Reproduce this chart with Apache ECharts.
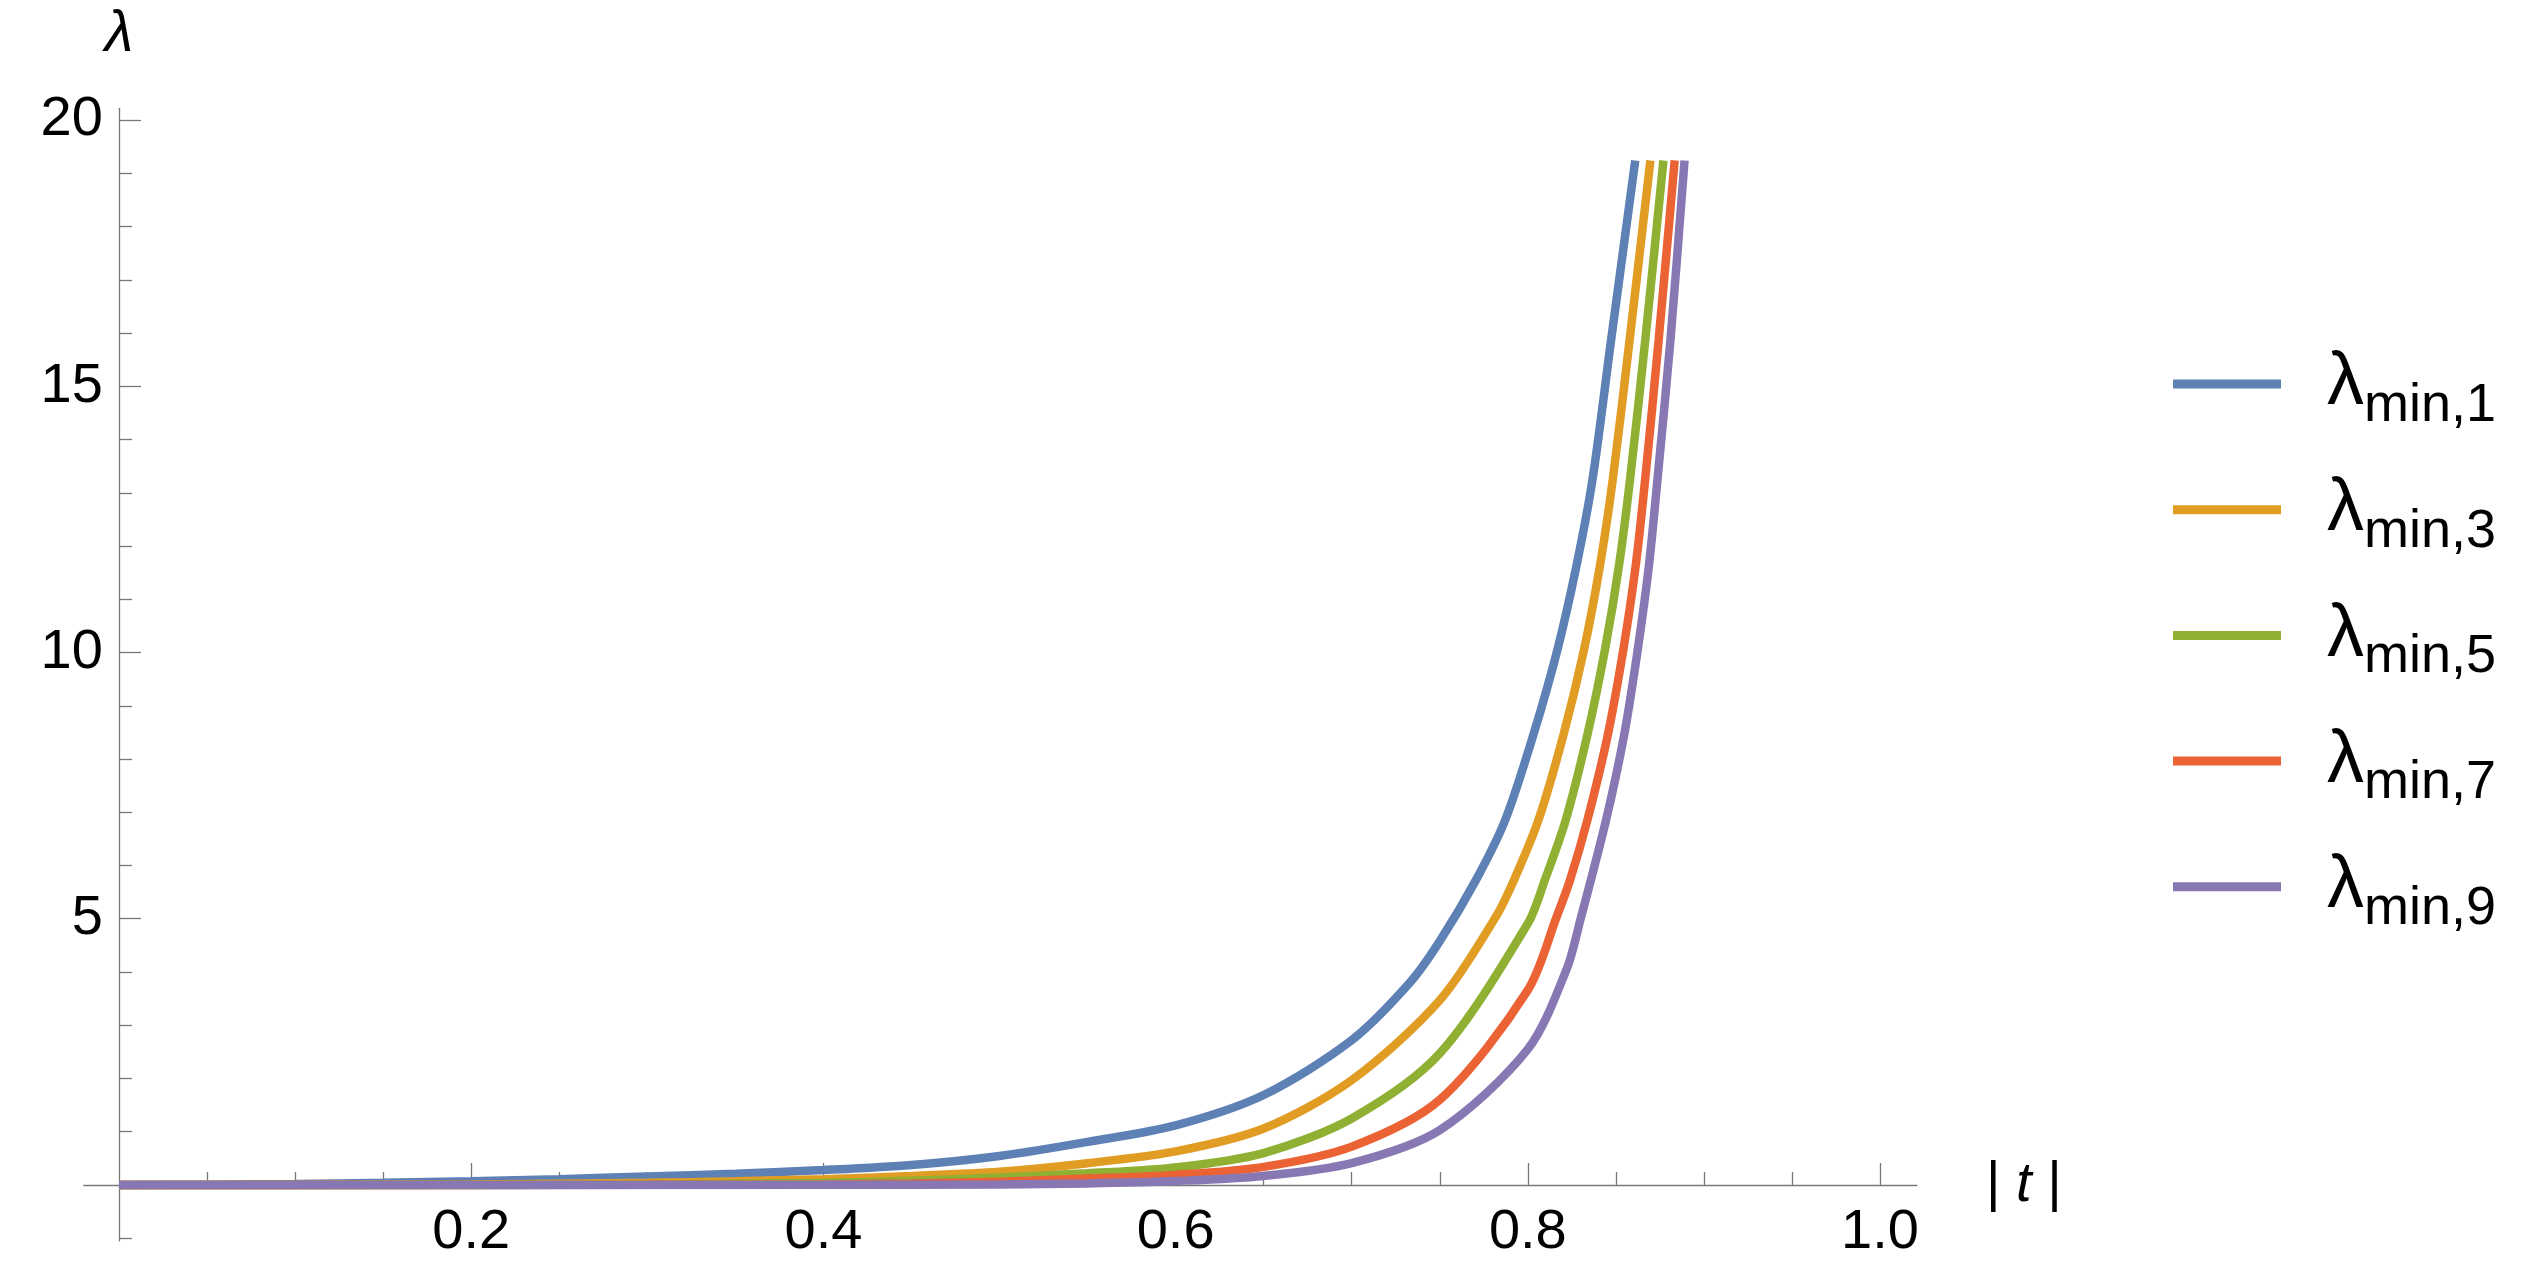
<!DOCTYPE html>
<html>
<head>
<meta charset="utf-8">
<title>lambda min</title>
<script src="https://cdn.jsdelivr.net/npm/echarts@6.0.0/dist/echarts.min.js"></script>
<style>
  html, body { margin: 0; padding: 0; background: #fff; }
  #chart { width: 2523px; height: 1284px; }
</style>
</head>
<body>
<div id="chart"></div>
<script>
// |t| and lambda, one pair of arrays per curve
const t1 = [0, 0.05, 0.1, 0.15, 0.2, 0.25, 0.3, 0.35, 0.4, 0.45, 0.5, 0.55, 0.6, 0.65, 0.7, 0.733, 0.75, 0.7706, 0.7871, 0.8031, 0.8168, 0.8277, 0.8367, 0.8473, 0.861];
const lam1 = [0, 0.005, 0.02, 0.04, 0.07, 0.11, 0.16, 0.21, 0.28, 0.375, 0.545, 0.81, 1.12, 1.69, 2.72, 3.8, 4.58, 5.73, 6.85, 8.45, 10.05, 11.64, 13.24, 15.87, 19.24];

const t3 = [0, 0.1, 0.2, 0.3, 0.35, 0.4, 0.45, 0.5, 0.55, 0.6, 0.65, 0.7, 0.75, 0.7819, 0.7922, 0.806, 0.8202, 0.8319, 0.841, 0.8482, 0.8578, 0.8696];
const lam3 = [0, 0.001, 0.01, 0.04, 0.07, 0.11, 0.17, 0.25, 0.41, 0.63, 1.06, 1.97, 3.47, 5.04, 5.73, 6.85, 8.45, 10.05, 11.64, 13.24, 15.87, 19.24];

const t5 = [0, 0.2, 0.3, 0.4, 0.45, 0.5, 0.55, 0.6, 0.65, 0.7, 0.75, 0.8, 0.8097, 0.8215, 0.8338, 0.8438, 0.8518, 0.858, 0.8667, 0.877];
const lam5 = [0, 0.002, 0.01, 0.04, 0.08, 0.14, 0.22, 0.33, 0.6, 1.25, 2.47, 4.91, 5.73, 6.85, 8.45, 10.05, 11.64, 13.24, 15.87, 19.24];

const t7 = [0, 0.3, 0.4, 0.45, 0.5, 0.55, 0.6, 0.65, 0.7, 0.75, 0.8, 0.8164, 0.824, 0.8338, 0.8454, 0.8542, 0.8613, 0.8666, 0.8743, 0.8834];
const lam7 = [0, 0.003, 0.01, 0.03, 0.06, 0.12, 0.19, 0.34, 0.72, 1.6, 3.66, 5.04, 5.73, 6.85, 8.45, 10.05, 11.64, 13.24, 15.87, 19.24];

const t9 = [0, 0.4, 0.5, 0.55, 0.6, 0.65, 0.7, 0.75, 0.8, 0.822, 0.83, 0.8444, 0.8547, 0.8624, 0.8688, 0.8736, 0.881, 0.889];
const lam9 = [0, 0.003, 0.01, 0.03, 0.075, 0.17, 0.41, 1.03, 2.55, 4.05, 5.0, 6.85, 8.45, 10.05, 11.64, 13.24, 15.87, 19.24];

const seriesNames = ['λmin,1', 'λmin,3', 'λmin,5', 'λmin,7', 'λmin,9'];
const subscripts = ['min,1', 'min,3', 'min,5', 'min,7', 'min,9'];
const colors = ['#5e81b5', '#e19c24', '#8fb032', '#eb6235', '#8778b3'];

const xMajorTicks = [0.2, 0.4, 0.6, 0.8, 1.0];
const xMinorTicks = [0.05, 0.1, 0.15, 0.25, 0.3, 0.35, 0.45, 0.5, 0.55, 0.65, 0.7, 0.75, 0.85, 0.9, 0.95];
const yMajorTicks = [5, 10, 15, 20];
const yMinorTicks = [-1, 1, 2, 3, 4, 6, 7, 8, 9, 11, 12, 13, 14, 16, 17, 18, 19];

const FONT = "'Liberation Sans', Arial, sans-serif";
const AXIS_GRAY = '#777777';

function zip(xs, ys) {
  return xs.map((x, i) => [x, ys[i]]);
}

function axisBase(min, max) {
  return {
    type: 'value',
    min: min,
    max: max,
    splitLine: {show: false},
    axisLine: {
      onZero: true,
      onZeroAxisIndex: 0,
      lineStyle: {color: AXIS_GRAY, width: 1.3}
    }
  };
}

function setChartData(chart) {
  const curves = [zip(t1, lam1), zip(t3, lam3), zip(t5, lam5), zip(t7, lam7), zip(t9, lam9)];

  // labels stay on the grid edge, not on the zero line, hence the negative margins
  const xMain = Object.assign(axisBase(-0.02, 1.021), {
    position: 'bottom',
    axisTick: {
      inside: true,
      length: 22,
      customValues: xMajorTicks,
      lineStyle: {color: AXIS_GRAY, width: 1.3}
    },
    axisLabel: {
      customValues: xMajorTicks,
      formatter: v => v.toFixed(1),
      fontSize: 56,
      fontFamily: FONT,
      color: '#000',
      margin: -36
    },
    name: '| {t|t} |',
    nameLocation: 'end',
    nameGap: 69,
    nameTextStyle: {
      fontSize: 56,
      fontFamily: FONT,
      color: '#000',
      verticalAlign: 'middle',
      rich: {
        t: {fontSize: 56, fontFamily: FONT, fontStyle: 'italic', color: '#000'}
      }
    }
  });

  const xMinor = Object.assign(axisBase(-0.02, 1.021), {
    position: 'bottom',
    axisTick: {
      inside: true,
      length: 13,
      customValues: xMinorTicks,
      lineStyle: {color: AXIS_GRAY, width: 1.3}
    },
    axisLabel: {show: false}
  });
  xMinor.axisLine.show = false;

  const yMain = Object.assign(axisBase(-1.05, 20.22), {
    position: 'left',
    axisTick: {
      inside: true,
      length: 22,
      customValues: yMajorTicks,
      lineStyle: {color: AXIS_GRAY, width: 1.3}
    },
    axisLabel: {
      customValues: yMajorTicks,
      fontSize: 56,
      fontFamily: FONT,
      color: '#000',
      margin: -19
    },
    name: 'λ',
    nameLocation: 'end',
    nameGap: 44,
    nameTextStyle: {
      fontSize: 58,
      fontFamily: FONT,
      fontStyle: 'italic',
      color: '#000',
      align: 'center'
    }
  });

  const yMinor = Object.assign(axisBase(-1.05, 20.22), {
    position: 'left',
    axisTick: {
      inside: true,
      length: 13,
      customValues: yMinorTicks,
      lineStyle: {color: AXIS_GRAY, width: 1.3}
    },
    axisLabel: {show: false}
  });
  yMinor.axisLine.show = false;

  let option = {
    animation: false,
    backgroundColor: '#fff',
    color: colors,
    grid: {
      left: 83.8,
      right: 606,
      top: 108.3,
      bottom: 43.1,
      containLabel: false,
      outerBoundsMode: 'none'
    },
    xAxis: [xMain, xMinor],
    yAxis: [yMain, yMinor],
    legend: {
      orient: 'vertical',
      left: 2168,
      top: 330,
      icon: 'rect',
      itemWidth: 108,
      itemHeight: 9,
      itemGap: 27.7,
      selectedMode: false,
      data: seriesNames,
      formatter: name => '{l|λ}{s|' + subscripts[seriesNames.indexOf(name)] + '}',
      textStyle: {
        color: '#000',
        fontFamily: FONT,
        rich: {
          l: {fontSize: 74, lineHeight: 80, fontFamily: FONT, color: '#000', padding: [0, 0, 0, 41]},
          s: {fontSize: 54, lineHeight: 36, fontFamily: FONT, color: '#000', padding: [44, 0, 0, 0]}
        }
      }
    },
    series: curves.map((data, i) => {
      return {
        name: seriesNames[i],
        type: 'line',
        xAxisIndex: 0,
        yAxisIndex: 0,
        data: data,
        symbol: 'none',
        smooth: 0.3,
        lineStyle: {width: 8.5, color: colors[i]},
        itemStyle: {color: colors[i]},
        emphasis: {disabled: true}
      };
    })
  };
  chart.setOption(option);
}

const chart = echarts.init(document.getElementById('chart'), null, {renderer: 'canvas'});
setChartData(chart);
</script>
</body>
</html>
